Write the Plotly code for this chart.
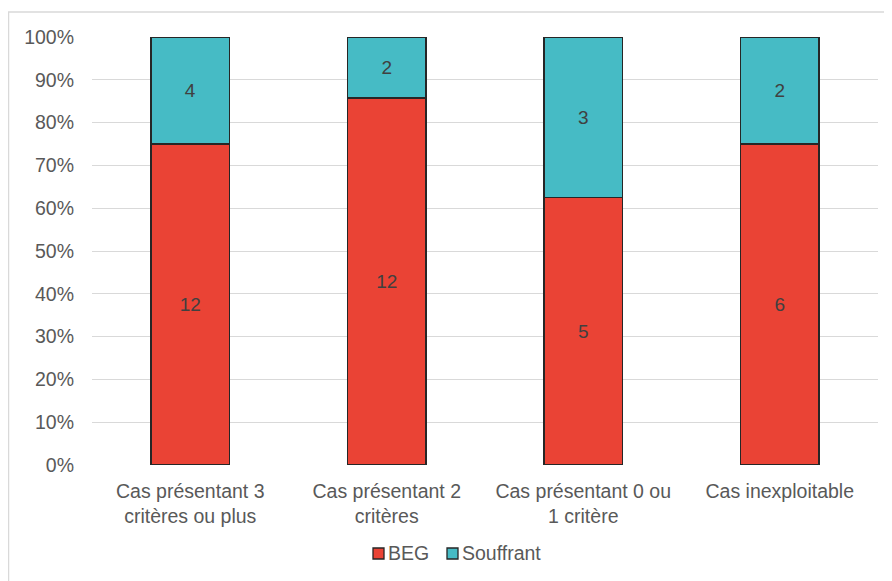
import plotly.graph_objects as go

categories = ["Cas présentant 3<br>critères ou plus", "Cas présentant 2<br>critères",
              "Cas présentant 0 ou<br>1 critère", "Cas inexploitable"]
beg = [12, 12, 5, 6]
souffrant = [4, 2, 3, 2]
series_names = ["BEG", "Souffrant"]
series_colors = ["#EA4335", "#46BBC5"]
y_ticks = [0, 10, 20, 30, 40, 50, 60, 70, 80, 90, 100]
y_tick_labels = [f"{v}%" for v in y_ticks]

totals = [a + b for a, b in zip(beg, souffrant)]
beg_pct = [100 * a / t for a, t in zip(beg, totals)]
souf_pct = [100 * b / t for b, t in zip(souffrant, totals)]

FONT = "Liberation Sans, Arial, sans-serif"
TXT = "#595959"
FS = 19.5
OUTLINE = "#262626"

fig = go.Figure()
for name, vals, counts, col in [(series_names[0], beg_pct, beg, series_colors[0]),
                                (series_names[1], souf_pct, souffrant, series_colors[1])]:
    fig.add_trace(go.Bar(
        name=name, x=categories, y=vals, text=[str(v) for v in counts],
        marker=dict(color=col, line=dict(color=OUTLINE, width=1.5)),
        textposition="inside", insidetextanchor="middle", textangle=0,
        textfont=dict(family=FONT, size=19, color="#404040"),
        hoverinfo="skip", showlegend=False,
    ))

# page body has 8px margin: figure occupies x 8..892, y 8..581 of window
OFF = 8
W, H = 892 - OFF, 581 - OFF
L, R, T, B = 92 - OFF, 14, 37 - OFF, 581 - 465
pw, ph = W - L - R, H - T - B

def px(x):
    return (x - OFF - L) / pw

def py(y):
    return (H - B - (y - OFF)) / ph

shapes = [
    dict(type="line", xref="paper", yref="paper", x0=px(8.5), x1=px(8.5), y0=py(12), y1=py(581),
         line=dict(color="#D9D9D9", width=1.5)),
    dict(type="line", xref="paper", yref="paper", x0=px(8), x1=px(892), y0=py(12), y1=py(12),
         line=dict(color="#D9D9D9", width=1.5)),
]
annotations = []
# custom legend
legend_items = [(series_names[0], series_colors[0], 373), (series_names[1], series_colors[1], 447)]
for name, col, x0 in legend_items:
    shapes.append(dict(type="rect", xref="paper", yref="paper",
                       x0=px(x0), x1=px(x0 + 11), y0=py(559), y1=py(548),
                       fillcolor=col, line=dict(color=OUTLINE, width=1.3)))
    annotations.append(dict(text=name, xref="paper", yref="paper", x=px(x0 + 13), y=py(553),
                            xanchor="left", yanchor="middle", showarrow=False,
                            font=dict(family=FONT, size=FS, color=TXT)))

fig.update_layout(
    barmode="stack",
    bargap=0.6,
    width=W, height=H,
    margin=dict(l=L, r=R, t=T, b=B),
    paper_bgcolor="white", plot_bgcolor="white",
    font=dict(family=FONT, size=FS, color=TXT),
    uniformtext=dict(minsize=19, mode="show"),
    showlegend=False,
    xaxis=dict(showgrid=False, showline=False, ticks="", tickfont=dict(size=FS, color=TXT),
               ticklabelstandoff=12),
    yaxis=dict(range=[0, 100], tickvals=y_ticks, ticktext=y_tick_labels,
               showgrid=True, gridcolor="#D9D9D9", gridwidth=1.3, zeroline=False,
               showline=False, tickfont=dict(size=FS, color=TXT), ticklabelstandoff=17),
    shapes=shapes,
    annotations=annotations,
)

fig.write_html("out.html")
